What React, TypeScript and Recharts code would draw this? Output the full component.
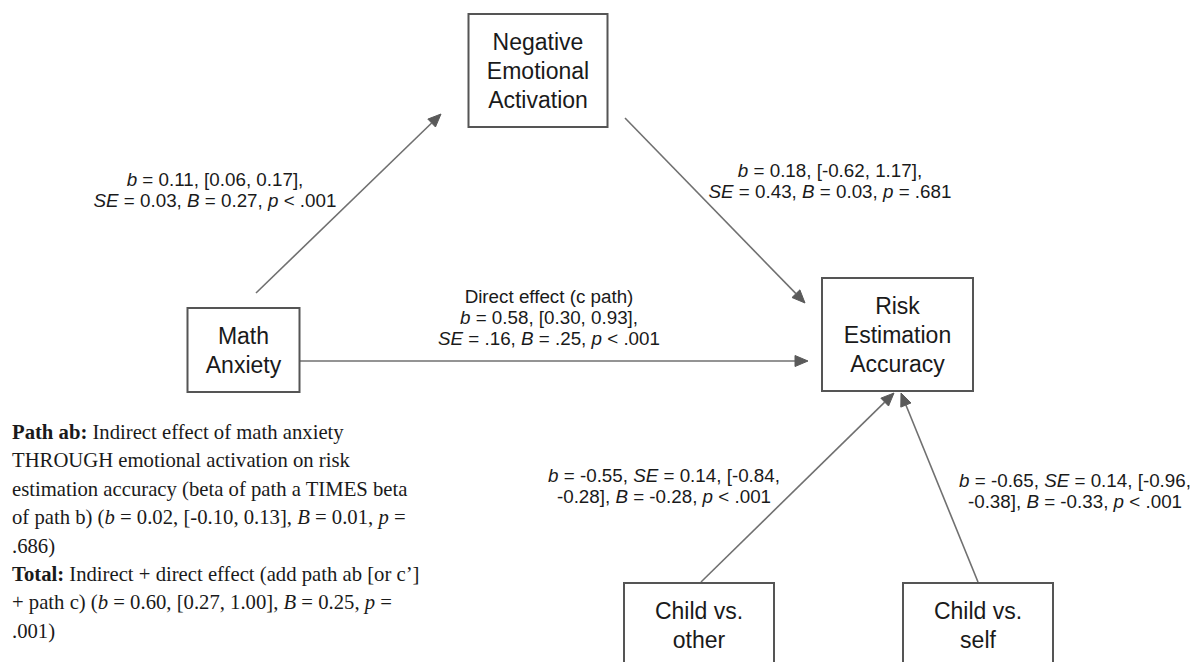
import React from 'react';
import { ScatterChart, Scatter, XAxis, YAxis, ReferenceLine } from 'recharts';

// ---------- data ----------
const NODES = [
  { id: 'neg', x: 538, y: 70.5, label: ['Negative', 'Emotional', 'Activation'] },
  { id: 'risk', x: 897.5, y: 334.5, label: ['Risk', 'Estimation', 'Accuracy'] },
  { id: 'math', x: 243.5, y: 350, label: ['Math', 'Anxiety'] },
  { id: 'other', x: 699, y: 625, label: ['Child vs.', 'other'] },
  { id: 'self', x: 978, y: 625, label: ['Child vs.', 'self'] },
];

const EDGES = [
  { x1: 256, y1: 293, x2: 441, y2: 114 },
  { x1: 625, y1: 118, x2: 805, y2: 303 },
  { x1: 297, y1: 361, x2: 808, y2: 361 },
  { x1: 701, y1: 582, x2: 894, y2: 393 },
  { x1: 978, y1: 582, x2: 901, y2: 393 },
];

const EDGE_LABELS = [
  { x: 215, y: 186, lines: ['*b* = 0.11, [0.06, 0.17],', '*SE* = 0.03, *B* = 0.27, *p* < .001'] },
  { x: 830, y: 176.5, lines: ['*b* = 0.18, [-0.62, 1.17],', '*SE* = 0.43, *B* = 0.03, *p* = .681'] },
  { x: 549, y: 302.5, lines: ['Direct effect (c path)', '*b* = 0.58, [0.30, 0.93],', '*SE* = .16, *B* = .25, *p* < .001'] },
  { x: 664, y: 481.5, lines: ['*b* = -0.55, *SE* = 0.14, [-0.84,', '-0.28], *B* = -0.28, *p* < .001'] },
  { x: 1075, y: 486.5, lines: ['*b* = -0.65, *SE* = 0.14, [-0.96,', '-0.38], *B* = -0.33, *p* < .001'] },
];

const NOTE = [
  {
    x: 12,
    y: 439,
    lines: [
      '**Path ab:** Indirect effect of math anxiety',
      'THROUGH emotional activation on risk',
      'estimation accuracy (beta of path a TIMES beta',
      'of path b) (*b* = 0.02, [-0.10, 0.13], *B* = 0.01, *p* =',
      '.686)',
      '**Total:** Indirect + direct effect (add path ab [or c\u2019]',
      '+ path c) (*b* = 0.60, [0.27, 1.00], *B* = 0.25, *p* =',
      '.001)',
    ],
  },
];

// ---------- layout / style ----------
const W = 1198;
const H = 662;
const BOX_SIZE: Record<string, [number, number]> = {
  neg: [139, 113],
  risk: [151, 113],
  math: [112, 84],
  other: [150, 84],
  self: [150, 84],
};
const SANS = '"Liberation Sans", Arial, sans-serif';
const SERIF = '"Liberation Serif", "Times New Roman", serif';
const TEXT = '#1a1a1a';
const EDGE_COLOR = '#707070';
const HEAD_COLOR = '#5a5a5a';
const BOX_STROKE = '#555555';

function rich(line: string, key: string | number) {
  const parts = line.split(/(\*\*[^*]+\*\*|\*[^*]+\*)/).filter((p) => p.length > 0);
  return parts.map((p, i) => {
    if (p.startsWith('**')) {
      return (
        <tspan key={`${key}-${i}`} fontWeight="bold">
          {p.slice(2, -2)}
        </tspan>
      );
    }
    if (p.startsWith('*')) {
      return (
        <tspan key={`${key}-${i}`} fontStyle="italic">
          {p.slice(1, -1)}
        </tspan>
      );
    }
    return <tspan key={`${key}-${i}`}>{p}</tspan>;
  });
}

const NodeShape = (props: any) => {
  const { cx, cy, payload } = props;
  const [w, h] = BOX_SIZE[payload.id];
  const n = payload.label.length;
  const lh = 29;
  return (
    <g>
      <rect x={cx - w / 2} y={cy - h / 2} width={w} height={h} fill="#fff" stroke={BOX_STROKE} strokeWidth={2} />
      {payload.label.map((t: string, i: number) => (
        <text
          key={i}
          x={cx}
          y={cy + (i - (n - 1) / 2) * lh + 8}
          textAnchor="middle"
          fontFamily={SANS}
          fontSize={23}
          fill={TEXT}
        >
          {t}
        </text>
      ))}
    </g>
  );
};

const EdgeLabelShape = (props: any) => {
  const { cx, cy, payload } = props;
  return (
    <g>
      {payload.lines.map((t: string, i: number) => (
        <text key={i} x={cx} y={cy + i * 21} textAnchor="middle" fontFamily={SANS} fontSize={18.8} fill={TEXT}>
          {rich(t, i)}
        </text>
      ))}
    </g>
  );
};

const NoteShape = (props: any) => {
  const { cx, cy, payload } = props;
  return (
    <g>
      {payload.lines.map((t: string, i: number) => (
        <text key={i} x={cx} y={cy + i * 28.4} textAnchor="start" fontFamily={SERIF} fontSize={20.7} fill={TEXT}>
          {rich(t, i)}
        </text>
      ))}
    </g>
  );
};

const ArrowShape = (props: any) => {
  const { x1, y1, x2, y2 } = props;
  if ([x1, y1, x2, y2].some((v) => v === undefined || isNaN(v))) return null;
  const dx = x2 - x1;
  const dy = y2 - y1;
  const len = Math.sqrt(dx * dx + dy * dy) || 1;
  const ux = dx / len;
  const uy = dy / len;
  const hl = 13;
  const hw = 5.5;
  const bx = x2 - ux * hl;
  const by = y2 - uy * hl;
  const px = -uy;
  const py = ux;
  return (
    <g>
      <line x1={x1} y1={y1} x2={bx} y2={by} stroke={EDGE_COLOR} strokeWidth={1.6} />
      <polygon
        points={`${x2},${y2} ${bx + px * hw},${by + py * hw} ${bx - px * hw},${by - py * hw}`}
        fill={HEAD_COLOR}
        stroke={HEAD_COLOR}
        strokeWidth={1}
        strokeLinejoin="round"
      />
    </g>
  );
};

export default function App() {
  return (
    <div style={{ position: 'absolute', left: 0, top: 0, width: W, height: H, background: '#fff' }}>
      <ScatterChart width={W} height={H} margin={{ top: 0, right: 0, bottom: 0, left: 0 }}>
        <XAxis type="number" dataKey="x" domain={[0, W]} hide allowDataOverflow />
        <YAxis type="number" dataKey="y" domain={[0, H]} reversed hide allowDataOverflow />
        {EDGES.map((e, i) => (
          <ReferenceLine
            key={i}
            segment={[
              { x: e.x1, y: e.y1 },
              { x: e.x2, y: e.y2 },
            ]}
            ifOverflow="visible"
            shape={ArrowShape}
          />
        ))}
        <Scatter data={NOTE} shape={NoteShape} isAnimationActive={false} />
        <Scatter data={EDGE_LABELS} shape={EdgeLabelShape} isAnimationActive={false} />
        <Scatter data={NODES} shape={NodeShape} isAnimationActive={false} />
      </ScatterChart>
    </div>
  );
}
